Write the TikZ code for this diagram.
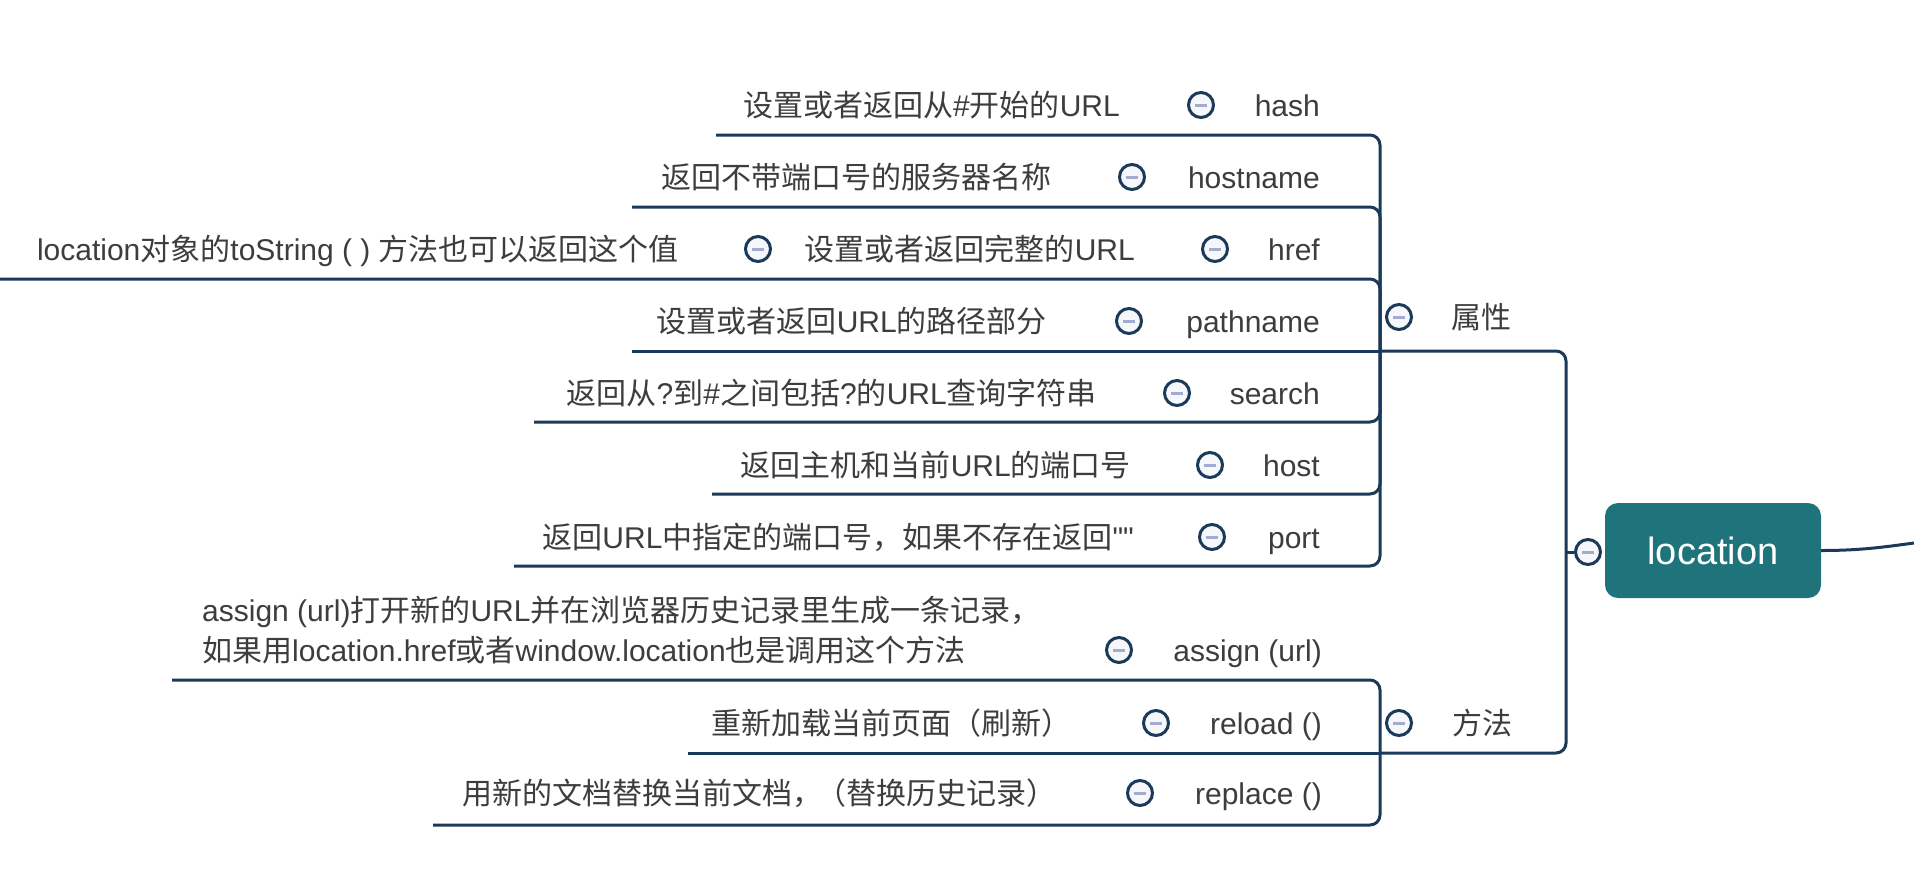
\documentclass[tikz,border=0pt]{standalone}
\usepackage{fontspec}
\setmainfont{Liberation Sans}
\newfontfamily\cjkfont{Noto Sans CJK SC}
\newfontfamily\plainlatin{Liberation Sans}
\newcommand\zh[1]{{\cjkfont #1}}
\definecolor{linec}{HTML}{1B3A5A}
\definecolor{txtc}{HTML}{3D3D3D}
\definecolor{boxteal}{HTML}{1F747C}
\definecolor{barc}{HTML}{A3ABCF}
\definecolor{circfill}{HTML}{F6F7FB}
\tikzset{
  link/.style={draw=linec, line width=3pt, rounded corners=10pt},
  desc/.style={anchor=base east, inner sep=0pt, text=txtc, font=\fontsize{30}{40}\selectfont},
  lbl/.style={anchor=base east, inner sep=0pt, text=txtc, font=\fontsize{30}{40}\selectfont},
  grp/.style={anchor=base west, inner sep=0pt, text=txtc, font=\fontsize{30}{40}\selectfont},
  tog/.style={circle, draw=linec, line width=3pt, fill=circfill, minimum size=25pt, inner sep=0pt,
    path picture={\fill[barc] ([xshift=-6pt,yshift=-1.5pt]path picture bounding box.center) rectangle ([xshift=6pt,yshift=1.5pt]path picture bounding box.center);}},
  rootbox/.style={rectangle, rounded corners=13pt, fill=boxteal, minimum width=216pt, minimum height=95pt, inner sep=0pt, text=white, font=\fontsize{38}{40}\selectfont},
}
\begin{document}
\begin{tikzpicture}[x=1pt,y=-1pt]
\fill[white] (0,0) rectangle (1914,868);
\useasboundingbox (0,0) rectangle (1914,868);

% ---------- junction coordinates ----------
\coordinate (jA) at (1380,351);
\coordinate (jM) at (1380,753);
\coordinate (jL) at (1566,552);
\coordinate (outR) at (1914,543);

% ---------- underline start coordinates ----------
\coordinate (uHash) at (716,135);
\coordinate (uHostname) at (632,207);
\coordinate (uHref) at (0,279);
\coordinate (uPath) at (632,351);
\coordinate (uSearch) at (534,422);
\coordinate (uHost) at (712,494);
\coordinate (uPort) at (514,566);
\coordinate (uAssign) at (172,680);
\coordinate (uReload) at (688,753);
\coordinate (uReplace) at (433,825);

% ---------- connectors ----------
\draw[link] (uHash) -| (jA);
\draw[link] (uHostname) -| (jA);
\draw[link] (uHref) -| (jA);
\draw[link] (uPath) -- (jA);
\draw[link] (uSearch) -| (jA);
\draw[link] (uHost) -| (jA);
\draw[link] (uPort) -| (jA);
\draw[link] (uAssign) -| (jM);
\draw[link] (uReload) -- (jM);
\draw[link] (uReplace) -| (jM);
\draw[link] (jA) -| (jL);
\draw[link] (jM) -| (jL);

% ---------- attribute group ----------
\node[desc] (dHash) at (1120,116) {\zh{设置或者返回从}\#\zh{开始的}URL};
\node[tog] (cHash) at (1201,105) {};
\node[lbl] (lHash) at (1320,116) {hash};

\node[desc] (dHostname) at (1052,188) {\zh{返回不带端口号的服务器名称}};
\node[tog] (cHostname) at (1132,177) {};
\node[lbl] (lHostname) at (1320,188) {hostname};

\node[desc] (dHrefSub) at (679,260) {location\zh{对象的}toString ( ) \zh{方法也可以返回这个值}};
\node[tog] (cHrefSub) at (758,249) {};
\node[desc] (dHref) at (1135,260) {\zh{设置或者返回完整的}URL};
\node[tog] (cHref) at (1215,249) {};
\node[lbl] (lHref) at (1320,260) {href};

\node[desc] (dPath) at (1047,332) {\zh{设置或者返回}URL\zh{的路径部分}};
\node[tog] (cPath) at (1129,321) {};
\node[lbl] (lPath) at (1320,332) {pathname};

\node[desc] (dSearch) at (1097,404) {\zh{返回从}?\zh{到}\#\zh{之间包括}?\zh{的}URL\zh{查询字符串}};
\node[tog] (cSearch) at (1177,393) {};
\node[lbl] (lSearch) at (1320,404) {search};

\node[desc] (dHost) at (1131,476) {\zh{返回主机和当前}URL\zh{的端口号}};
\node[tog] (cHost) at (1210,465) {};
\node[lbl] (lHost) at (1320,476) {host};

\node[desc] (dPort) at (1134,548) {\zh{返回}URL\zh{中指定的端口号，如果不存在返回}{\plainlatin ""}};
\node[tog] (cPort) at (1212,537) {};
\node[lbl] (lPort) at (1320,548) {port};

% ---------- method group ----------
\node[grp] (dAssign1) at (202,621) {assign (url)\zh{打开新的}URL\zh{并在浏览器历史记录里生成一条记录，}};
\node[grp] (dAssign2) at (202,661) {\zh{如果用}location.href\zh{或者}window.location\zh{也是调用这个方法}};
\node[tog] (cAssign) at (1119,650) {};
\node[lbl] (lAssign) at (1322,661) {assign (url)};

\node[desc] (dReload) at (1072,734) {\zh{重新加载当前页面（刷新）}};
\node[tog] (cReload) at (1156,723) {};
\node[lbl] (lReload) at (1322,734) {reload ()};

\node[desc] (dReplace) at (1057,804) {\zh{用新的文档替换当前文档，\kern-6pt（替换历史记录）}};
\node[tog] (cReplace) at (1140,793) {};
\node[lbl] (lReplace) at (1322,804) {replace ()};

% ---------- group headers ----------
\node[tog] (cAttr) at (1399,317) {};
\node[grp] (gAttr) at (1451,328) {\zh{属性}};
\node[tog] (cMeth) at (1399,723) {};
\node[grp] (gMeth) at (1452,734) {\zh{方法}};

% ---------- root ----------
\node[tog] (cLoc) at (1588,552) {};
\node[rootbox] (loc) at (1713,550.5) {location};
\draw[link] (jL) -- (cLoc.west);
\draw[link] (loc.east) .. controls +(40,0) and +(-30,4) .. (outR);
\end{tikzpicture}
\end{document}
